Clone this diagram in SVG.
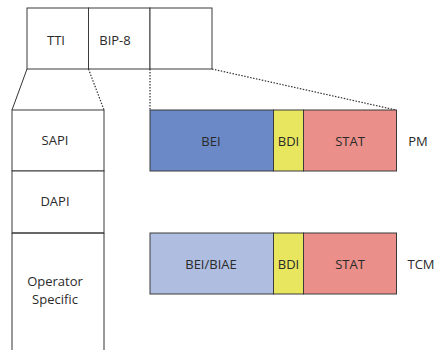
<svg xmlns="http://www.w3.org/2000/svg" width="437" height="350" viewBox="0 0 437 350">
<style>
.b{stroke:#3a3a3a;stroke-width:1;fill:#fff}
.f{stroke:#3a3a3a;stroke-width:1}
.t{font-family:"Open Sans","Liberation Sans",sans-serif;font-size:13px;fill:#2a2a2a;text-anchor:middle}
.s{stroke:#333;stroke-width:1;fill:none}
.d{stroke:#333;stroke-width:1.2;fill:none;stroke-dasharray:1.5 1.5}
</style>
<rect width="437" height="350" fill="#fff"/>
<g id="connectors">
<line class="s" x1="27" y1="69" x2="12" y2="110"/>
<line class="d" x1="88.5" y1="69" x2="104" y2="110"/>
<line class="d" x1="150" y1="69" x2="150" y2="110"/>
<line class="d" x1="212" y1="69" x2="396" y2="110"/>
</g>
<g id="tti"><rect class="b" x="27" y="8" width="61.5" height="61"/><text class="t" x="56" y="44.5">TTI</text></g>
<g id="bip8"><rect class="b" x="88.5" y="8" width="61.5" height="61"/><text class="t" x="115" y="44.5">BIP-8</text></g>
<g id="empty"><rect class="b" x="150" y="8" width="62" height="61"/></g>
<g id="sapi"><rect class="b" x="12" y="110" width="92" height="61"/><text class="t" x="55" y="144.5">SAPI</text></g>
<g id="dapi"><rect class="b" x="12" y="171" width="92" height="62"/><text class="t" x="55" y="206">DAPI</text></g>
<g id="opspec"><path class="s" d="M12 233 V351 M104 233 V351 M12 233 H104"/><text class="t" x="55" y="286">Operator</text><text class="t" x="55" y="303.5">Specific</text></g>
<g id="pm-bei"><rect class="f" x="150" y="110" width="123.5" height="61" fill="#6b89c6"/><text class="t" x="211" y="146">BEI</text></g>
<g id="pm-bdi"><rect class="f" x="273.5" y="110" width="30" height="61" fill="#e8e65e"/><text class="t" x="288.5" y="146">BDI</text></g>
<g id="pm-stat"><rect class="f" x="303.5" y="110" width="93" height="61" fill="#eb8f8b"/><text class="t" x="350" y="146">STAT</text></g>
<g id="pm-label"><text class="t" x="418" y="146">PM</text></g>
<g id="tcm-bei"><rect class="f" x="150" y="233" width="123.5" height="61" fill="#aebde0"/><text class="t" x="211" y="269">BEI/BIAE</text></g>
<g id="tcm-bdi"><rect class="f" x="273.5" y="233" width="30" height="61" fill="#e8e65e"/><text class="t" x="288.5" y="269">BDI</text></g>
<g id="tcm-stat"><rect class="f" x="303.5" y="233" width="93" height="61" fill="#eb8f8b"/><text class="t" x="350" y="269">STAT</text></g>
<g id="tcm-label"><text class="t" x="421" y="269">TCM</text></g>
</svg>
